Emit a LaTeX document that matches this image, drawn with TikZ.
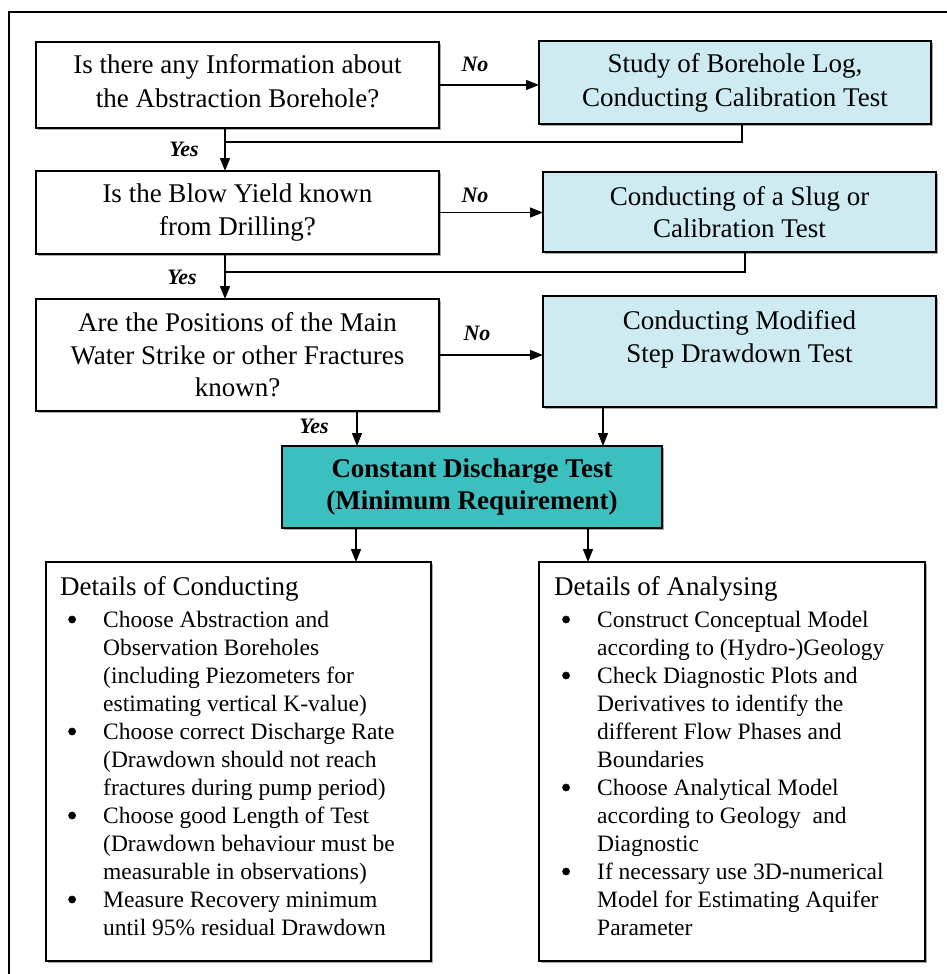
\documentclass[tikz,border=0pt]{standalone}
\usepackage{fontspec}
\setmainfont{Liberation Serif}
\usetikzlibrary{arrows.meta,shadows}
\definecolor{lightbox}{RGB}{205,235,240}
\definecolor{tealbox}{RGB}{60,191,191}
\definecolor{shadowgray}{RGB}{170,170,170}
\tikzset{
  box/.style={draw=black, line width=1.4pt, inner sep=0pt, outer sep=0pt, align=center,
    font=\fontsize{27}{32.5}\selectfont,
    drop shadow={shadow xshift=1.6pt, shadow yshift=-1.6pt, fill=shadowgray, opacity=1}},
  qbox/.style={box, fill=white},
  abox/.style={box, fill=lightbox},
  cbox/.style={box, fill=tealbox, font=\fontsize{27}{32.5}\selectfont\bfseries},
  dbox/.style={box, fill=white},
  arr/.style={line width=1.3pt, -{Triangle[length=13pt,width=10pt]}},
  con/.style={line width=1.3pt},
  lab/.style={font=\fontsize{22}{26}\selectfont\bfseries\itshape, inner sep=0pt},
  head/.style={font=\fontsize{27}{32}\selectfont, inner sep=0pt, anchor=base west},
  lst/.style={font=\fontsize{23.5}{28}\selectfont, inner sep=0pt, anchor=base west},
}
\newcommand{\bul}{\makebox[35pt][l]{\tikz[baseline=0pt]\fill[black] (4pt,7.5pt) circle (3.9pt);}}
\begin{document}
\begin{tikzpicture}[x=1pt,y=-1pt]
\useasboundingbox (0,0) rectangle (947,974);
% outer frame (cropped)
\draw[line width=2.2pt] (9,974) -- (9,12) -- (947,12);

% decision boxes
\node[qbox, minimum width=403pt, minimum height=86pt] (q1) at (237.5,85) {Is there any Information about\\[1.5pt]the Abstraction Borehole?\\[-24pt]\mbox{}};
\node[qbox, minimum width=403pt, minimum height=83pt] (q2) at (237.5,212.5) {Is the Blow Yield known\\from Drilling?};
\node[qbox, minimum width=403pt, minimum height=112pt] (q3) at (237.5,355) {Are the Positions of the Main\\Water Strike or other Fractures\\known?};

% action boxes
\node[abox, minimum width=392pt, minimum height=83pt] (s1) at (735,82.5) {Study of Borehole Log,\\[1.5pt]Conducting Calibration Test};
\node[abox, minimum width=393pt, minimum height=80pt] (s2) at (739.5,212) {Conducting of a Slug or\\Calibration Test};
\node[abox, minimum width=393pt, minimum height=111pt] (s3) at (739.5,351.5) {Conducting Modified\\Step Drawdown Test\\[-12pt]\strut};

% central box
\node[cbox, minimum width=380pt, minimum height=82pt] (cdt) at (472,487) {Constant Discharge Test\\(Minimum Requirement)};

% detail boxes
\node[dbox, minimum width=385pt, minimum height=399pt] (dc) at (238.5,761.5) {};
\node[dbox, minimum width=386pt, minimum height=399pt] (da) at (732,761.5) {};

\node[head] (dch) at (60,595) {Details of Conducting};
\node[lst] (dcl) at (68,627) {\begin{tabular}[t]{@{}l@{}l@{}}
\bul & Choose Abstraction and\\
 & Observation Boreholes\\
 & (including Piezometers for\\
 & estimating vertical K-value)\\
\bul & Choose correct Discharge Rate\\
 & (Drawdown should not reach\\
 & fractures during pump period)\\
\bul & Choose good Length of Test\\
 & (Drawdown behaviour must be\\
 & measurable in observations)\\
\bul & Measure Recovery minimum\\
 & until 95\% residual Drawdown
\end{tabular}};

\node[head] (dah) at (554,595) {Details of Analysing};
\node[lst] (dal) at (562,627) {\begin{tabular}[t]{@{}l@{}l@{}}
\bul & Construct Conceptual Model\\
 & according to (Hydro-)Geology\\
\bul & Check Diagnostic Plots and\\
 & Derivatives to identify the\\
 & different Flow Phases and\\
 & Boundaries\\
\bul & Choose Analytical Model\\
 & according to Geology\ \ and\\
 & Diagnostic\\
\bul & If necessary use 3D-numerical\\
 & Model for Estimating Aquifer\\
 & Parameter
\end{tabular}};

% helper coordinates
\coordinate (m1) at (742,142);
\coordinate (j1) at (225,142);
\coordinate (m2) at (745,272);
\coordinate (j2) at (225,272);
\coordinate (a3) at (357,430);
\coordinate (a4) at (603,430);
\coordinate (a5) at (356,545);
\coordinate (a6) at (588,545);

% No arrows
\draw[arr] (q1.east) -- (q1.east -| s1.west);
\draw[arr] (q2.east) -- (q2.east -| s2.west);
\draw[arr] (q3.east) -- (q3.east -| s3.west);
\node[lab] (no1) at (475,64) {No};
\node[lab] (no2) at (475,195) {No};
\node[lab] (no3) at (477,333) {No};

% merges and yes arrows
\draw[con] (s1.south -| m1) -- (m1) -- (j1);
\draw[arr] (q1.south -| j1) -- (q2.north -| j1);
\node[lab] (y1) at (184,149) {Yes};
\draw[con] (s2.south -| m2) -- (m2) -- (j2);
\draw[arr] (q2.south -| j2) -- (q3.north -| j2);
\node[lab] (y2) at (182,277) {Yes};
\draw[arr] (q3.south -| a3) -- (cdt.north -| a3);
\node[lab] (y3) at (314,426) {Yes};
\draw[arr] (s3.south -| a4) -- (cdt.north -| a4);
\draw[arr] (cdt.south -| a5) -- (dc.north -| a5);
\draw[arr] (cdt.south -| a6) -- (da.north -| a6);
\end{tikzpicture}
\end{document}
